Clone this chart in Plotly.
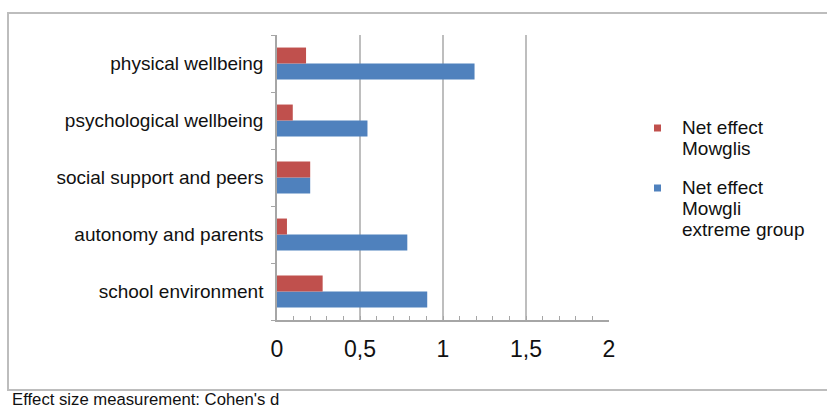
import plotly.graph_objects as go

# Effect sizes (Cohen's d) per domain
categories = ["school environment", "autonomy and parents", "social support and peers",
              "psychological wellbeing", "physical wellbeing"]
net_mowglis = [0.275, 0.06, 0.20, 0.095, 0.175]
net_extreme = [0.905, 0.785, 0.20, 0.545, 1.19]
x_ticks = [0, 0.5, 1, 1.5, 2]
series_labels = [["Net effect", "Mowglis"], ["Net effect", "Mowgli", "extreme group"]]

RED = "#C0504D"
BLUE = "#4F81BD"

W, H = 827, 408
L, R, T, B = 277, 218, 35, 88
PW, PH = W - L - R, H - T - B


def px(x):
    return (x - L) / PW


def py(y):
    return (H - B - y) / PH


fig = go.Figure()
fig.add_trace(go.Bar(
    y=categories, x=net_extreme, orientation="h",
    name=" ".join(series_labels[1]),
    marker=dict(color=BLUE, line=dict(width=0)), showlegend=False,
))
fig.add_trace(go.Bar(
    y=categories, x=net_mowglis, orientation="h",
    name=" ".join(series_labels[0]),
    marker=dict(color=RED, line=dict(width=0)), showlegend=False,
))

font = "Liberation Sans, Arial, sans-serif"

# legend drawn by hand: small square key plus tightly spaced text lines
shapes = [dict(
    type="rect", xref="paper", yref="paper",
    x0=px(8), x1=px(830), y0=py(390), y1=py(13),
    line=dict(color="#BDBDBD", width=2), fillcolor="rgba(0,0,0,0)", layer="below",
)]
annotations = []
for lines, color, top in [(series_labels[0], RED, 127), (series_labels[1], BLUE, 187)]:
    shapes.append(dict(
        type="rect", xref="paper", yref="paper",
        x0=px(654), x1=px(661), y0=py(top + 4.5), y1=py(top - 2.5),
        line=dict(width=0), fillcolor=color,
    ))
    for i, line in enumerate(lines):
        annotations.append(dict(
            text=line, xref="paper", yref="paper",
            x=px(680), y=py(top + 21 * i), xanchor="left", yanchor="middle",
            showarrow=False, font=dict(size=19, family=font, color="#111111"),
        ))

annotations.append(dict(
    text="Effect size measurement: Cohen's d",
    xref="paper", yref="paper", x=px(10), y=py(399),
    xanchor="left", yanchor="middle", showarrow=False,
    font=dict(size=16.7, family=font, color="#111111"),
))

fig.update_layout(
    width=W, height=H,
    margin=dict(l=L, r=R, t=T, b=B),
    paper_bgcolor="white", plot_bgcolor="white",
    barmode="group", bargap=0.44, bargroupgap=0,
    separators=", ",
    font=dict(family=font, color="#111111"),
    showlegend=False,
    xaxis=dict(
        range=[0, 2], tickvals=x_ticks,
        showgrid=True, gridcolor="#BEBEBE", gridwidth=1.5,
        zeroline=False, showline=True, linecolor="#A6A6A6", linewidth=1.5,
        ticks="inside", ticklen=4, tickcolor="#A6A6A6",
        minor=dict(dtick=0.1, ticks="inside", ticklen=4, tickcolor="#A6A6A6", showgrid=False),
        tickfont=dict(size=23, family=font, color="#111111"),
        ticklabelstandoff=8,
        fixedrange=True,
    ),
    yaxis=dict(
        showgrid=False, zeroline=False,
        showline=True, linecolor="#A6A6A6", linewidth=1.5,
        ticks="outside", ticklen=4, tickcolor="#A6A6A6", tickson="boundaries",
        tickfont=dict(size=19, family=font, color="#111111"),
        ticklabelstandoff=8,
        fixedrange=True,
    ),
    shapes=shapes,
    annotations=annotations,
)

fig.write_html("out.html")
